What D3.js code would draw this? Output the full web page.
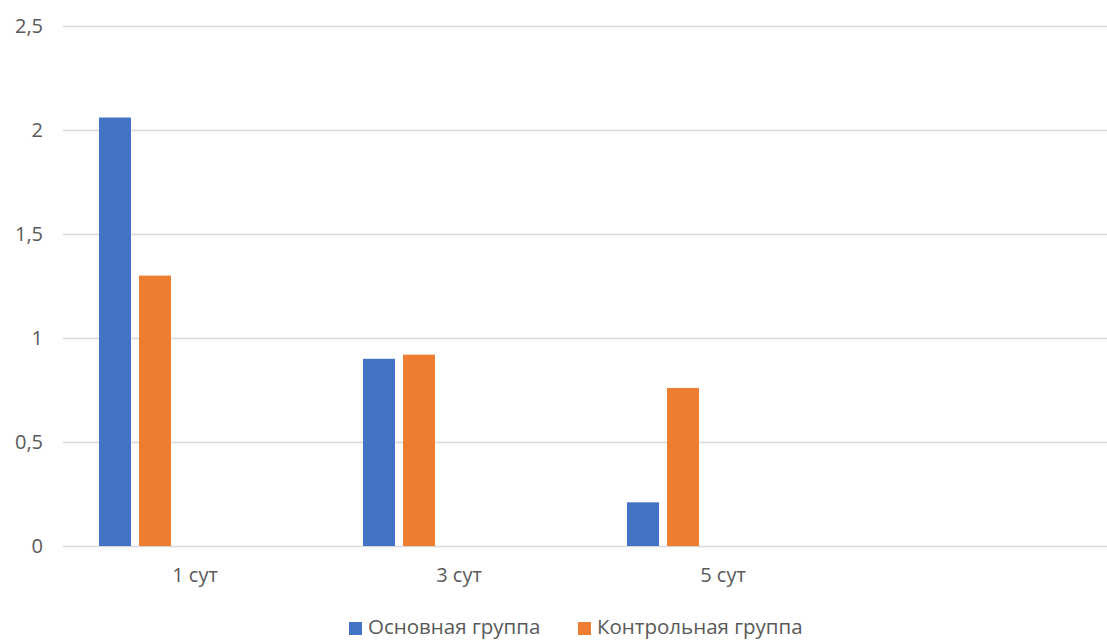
<!DOCTYPE html>
<html>
<head>
<meta charset="utf-8">
<script src="https://cdnjs.cloudflare.com/ajax/libs/d3/7.8.5/d3.min.js"></script>
<style>
  body { margin: 0; background: #fff; }
  svg { display: block; }
</style>
</head>
<body>
<script>
// data
const categories = ["1 сут", "3 сут", "5 сут", ""];
const seriesNames = ["Основная группа", "Контрольная группа"];
const mainGroup = [2.06, 0.90, 0.21, null];
const controlGroup = [1.30, 0.92, 0.76, null];
const yTicks = [0, 0.5, 1, 1.5, 2, 2.5];
const colors = ["#4472c4", "#ed7d31"];

const font = "'Open Sans', 'Noto Sans', sans-serif";
const width = 1107, height = 641;
const plotLeft = 63, plotRight = 1119, plotTop = 26, plotBottom = 546;
const clusterSlots = 5; // excel cluster keeps room for empty series

const svg = d3.select("body").append("svg")
    .attr("width", width)
    .attr("height", height);

const y = d3.scaleLinear().domain([0, 2.5]).range([plotBottom, plotTop]);
const x0 = d3.scaleBand().domain(categories).range([plotLeft, plotRight]);
const x1 = d3.scaleBand().domain(d3.range(clusterSlots))
    .range([36, x0.bandwidth() - 36])
    .paddingInner(0.2);

// gridlines + y labels
const yAxis = d3.axisLeft(y)
    .tickValues(yTicks)
    .tickSize(-(plotRight - plotLeft))
    .tickPadding(20)
    .tickFormat(d => String(d).replace(".", ","));

svg.append("g")
    .attr("transform", `translate(${plotLeft},0)`)
    .call(yAxis)
    .attr("font-family", font)
    .attr("font-size", 20)
    .call(g => g.select(".domain").remove())
    .call(g => g.selectAll(".tick line").attr("stroke", "#d9d9d9").attr("stroke-width", 1.5))
    .call(g => g.selectAll(".tick text").attr("fill", "#595959"));

// x labels
const xAxis = d3.axisBottom(x0).tickSize(0).tickPadding(22);
svg.append("g")
    .attr("transform", `translate(0,${plotBottom})`)
    .call(xAxis)
    .attr("font-family", font)
    .attr("font-size", 20)
    .call(g => g.select(".domain").remove())
    .call(g => g.selectAll(".tick text").attr("fill", "#595959"));

// bars
const allSeries = [mainGroup, controlGroup];
allSeries.forEach(function (vals, si) {
    svg.append("g")
        .selectAll("rect")
        .data(vals.map((v, i) => ({ cat: categories[i], v: v })).filter(d => d.v != null))
        .join("rect")
        .attr("x", d => x0(d.cat) + x1(si))
        .attr("width", x1.bandwidth())
        .attr("y", d => y(d.v))
        .attr("height", d => y(0) - y(d.v))
        .attr("fill", colors[si]);
});

// legend
const legend = svg.append("g")
    .attr("font-family", font)
    .attr("font-size", 20.5)
    .attr("fill", "#595959");
const legendX = [349, 578];
seriesNames.forEach(function (name, i) {
    legend.append("rect")
        .attr("x", legendX[i]).attr("y", 622)
        .attr("width", 13).attr("height", 13)
        .attr("fill", colors[i]);
    legend.append("text")
        .attr("x", legendX[i] + 19).attr("y", 634)
        .text(name);
});
</script>
</body>
</html>
